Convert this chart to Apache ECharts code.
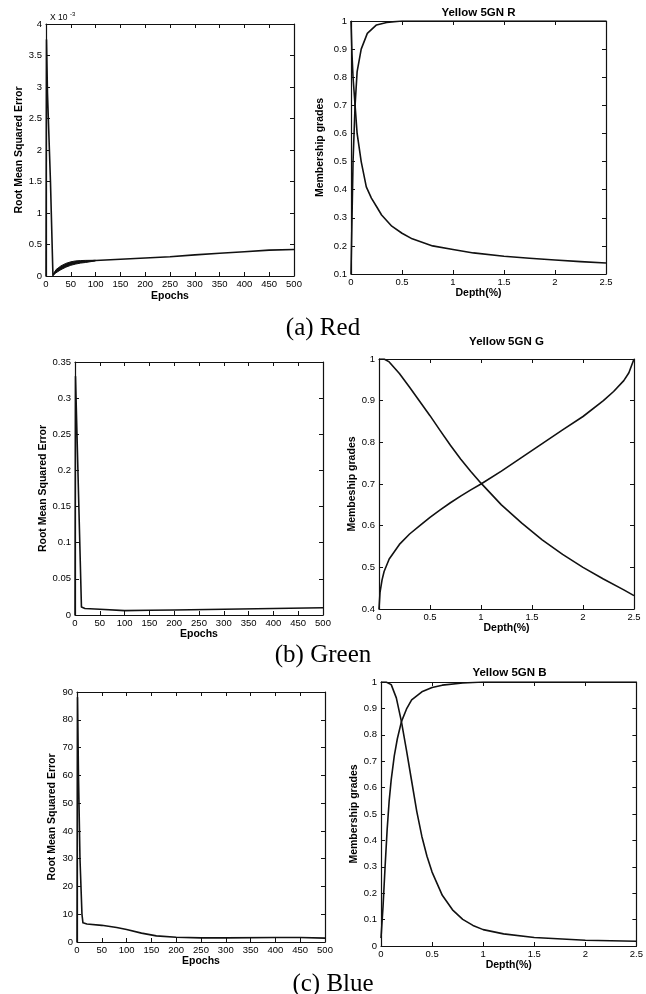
<!DOCTYPE html>
<html>
<head>
<meta charset="utf-8">
<script src="https://cdn.jsdelivr.net/npm/echarts@6/dist/echarts.min.js"></script>
<style>
  html, body { margin: 0; padding: 0; background: #fff; }
  #chart { width: 646px; height: 994px; }
</style>
</head>
<body>
<div id="chart"></div>
<script>
// ---------- (a) Red ----------
const redEpochs = [0, 1, 3, 9, 14, 20, 30, 40, 50, 60, 80, 100, 150, 200, 250, 300, 350, 400, 450, 500];
const redRmse   = [0, 3.75, 2.9, 1.5, 0.01, 0.08, 0.13, 0.17, 0.2, 0.215, 0.235, 0.245, 0.265, 0.285, 0.305, 0.335, 0.36, 0.385, 0.41, 0.42];
// oscillation envelope of the early training epochs
const redBandEpochs = [14, 20, 30, 40, 50, 60, 70, 80, 100];
const redBandLow    = [0.01, 0.05, 0.1, 0.14, 0.17, 0.19, 0.205, 0.215, 0.24];
const redBandHigh   = [0.01, 0.1, 0.16, 0.2, 0.225, 0.24, 0.245, 0.248, 0.25];

const redRiseDepth = [0, 0.01, 0.02, 0.04, 0.06, 0.1, 0.16, 0.25, 0.35, 0.5, 1, 1.5, 2, 2.5];
const redRiseGrade = [0.1, 0.3, 0.5, 0.7, 0.82, 0.9, 0.956, 0.986, 0.995, 1, 1, 1, 1, 1];
const redFallDepth = [0, 0.01, 0.02, 0.04, 0.06, 0.1, 0.15, 0.2, 0.25, 0.3, 0.4, 0.5, 0.6, 0.8, 1.0, 1.2, 1.5, 1.75, 2.0, 2.25, 2.5];
const redFallGrade = [1, 0.88, 0.8, 0.7, 0.6, 0.5, 0.41, 0.37, 0.34, 0.31, 0.27, 0.245, 0.225, 0.2, 0.187, 0.175, 0.163, 0.156, 0.15, 0.144, 0.139];

// ---------- (b) Green ----------
const greenEpochs = [0, 1, 4, 13, 20, 50, 100, 150, 200, 300, 400, 500];
const greenRmse   = [0, 0.33, 0.25, 0.011, 0.009, 0.008, 0.006, 0.0065, 0.007, 0.008, 0.009, 0.01];

const greenRiseDepth = [0, 0.01, 0.03, 0.05, 0.1, 0.2, 0.3, 0.4, 0.5, 0.6, 0.7, 0.8, 0.9, 1.0, 1.2, 1.4, 1.6, 1.8, 2.0, 2.2, 2.3, 2.4, 2.45, 2.5];
const greenRiseGrade = [0.4, 0.44, 0.47, 0.49, 0.52, 0.555, 0.58, 0.6, 0.62, 0.638, 0.655, 0.671, 0.686, 0.7, 0.731, 0.764, 0.797, 0.83, 0.862, 0.9, 0.922, 0.948, 0.967, 1.0];
const greenFallDepth = [0, 0.05, 0.1, 0.2, 0.3, 0.4, 0.5, 0.6, 0.7, 0.8, 0.9, 1.0, 1.2, 1.4, 1.6, 1.8, 2.0, 2.2, 2.4, 2.5];
const greenFallGrade = [1, 1, 0.993, 0.965, 0.932, 0.898, 0.864, 0.828, 0.793, 0.76, 0.73, 0.702, 0.65, 0.606, 0.566, 0.531, 0.5, 0.472, 0.446, 0.432];

// ---------- (c) Blue ----------
const blueEpochs = [0, 1, 3, 6, 10, 12, 20, 50, 80, 100, 130, 160, 200, 250, 300, 400, 450, 500];
const blueRmse   = [0, 88, 60, 30, 10, 6.9, 6.5, 6.0, 5.2, 4.5, 3.2, 2.2, 1.7, 1.5, 1.5, 1.6, 1.6, 1.4];

const blueRiseDepth = [0, 0.02, 0.04, 0.06, 0.08, 0.1, 0.13, 0.16, 0.2, 0.25, 0.3, 0.4, 0.5, 0.6, 0.8, 1.0, 1.5, 2.0, 2.5];
const blueRiseGrade = [0.03, 0.15, 0.3, 0.44, 0.55, 0.63, 0.72, 0.785, 0.85, 0.898, 0.932, 0.963, 0.979, 0.988, 0.996, 1, 1, 1, 1];
const blueFallDepth = [0, 0.05, 0.1, 0.15, 0.2, 0.25, 0.3, 0.35, 0.4, 0.45, 0.5, 0.6, 0.7, 0.8, 0.9, 1.0, 1.2, 1.5, 2.0, 2.5];
const blueFallGrade = [1, 1, 0.99, 0.94, 0.85, 0.74, 0.625, 0.51, 0.415, 0.34, 0.28, 0.192, 0.137, 0.101, 0.078, 0.062, 0.046, 0.032, 0.022, 0.018];

// ---------- titles and captions ----------
const panelTitles = ['Yellow 5GN R', 'Yellow 5GN G', 'Yellow 5GN B'];
const captions = ['(a) Red', '(b) Green', '(c) Blue'];

// ---------- layout ----------
const SANS = '"Liberation Sans", Arial, Helvetica, sans-serif';
const INK = '#111';

const panels = [
  { grid: { left: 46,  top: 24,  width: 248, height: 252 }, x: [0, 500, 50],  y: [0, 4, 0.5],    xName: 'Epochs',   yName: 'Root Mean Squared Error', xGap: 15, yGap: 19 },
  { grid: { left: 351, top: 21,  width: 255, height: 253 }, x: [0, 2.5, 0.5], y: [0.1, 1, 0.1],  xName: 'Depth(%)', yName: 'Membership grades',       xGap: 13, yGap: 25 },
  { grid: { left: 75,  top: 362, width: 248, height: 253 }, x: [0, 500, 50],  y: [0, 0.35, 0.05], xName: 'Epochs',   yName: 'Root Mean Squared Error', xGap: 11, yGap: 21 },
  { grid: { left: 379, top: 359, width: 255, height: 250 }, x: [0, 2.5, 0.5], y: [0.4, 1, 0.1],  xName: 'Depth(%)', yName: 'Membeship grades',        xGap: 12, yGap: 7 },
  { grid: { left: 77,  top: 692, width: 248, height: 250 }, x: [0, 500, 50],  y: [0, 90, 10],    xName: 'Epochs',   yName: 'Root Mean Squared Error', xGap: 14, yGap: 19 },
  { grid: { left: 381, top: 682, width: 257, height: 264 }, x: [0, 2.5, 0.5], y: [0, 1, 0.1],    xName: 'Depth(%)', yName: 'Membership grades',       xGap: 11, yGap: 12 }
];

const grids = [];
const xAxes = [];
const yAxes = [];

panels.forEach((p, i) => {
  grids.push(Object.assign({ containLabel: false }, p.grid));
  const tick = { show: true, inside: true, length: 4, lineStyle: { color: INK, width: 1 } };
  const line = { show: true, onZero: false, lineStyle: { color: INK, width: 1.2 } };
  const lbl = { color: '#000', fontFamily: SANS, fontSize: 9.5 };
  const nameStyle = { color: '#000', fontFamily: SANS, fontSize: 10.5, fontWeight: 'bold' };
  // bottom axis with labels
  xAxes.push({
    type: 'value', gridIndex: i, position: 'bottom',
    min: p.x[0], max: p.x[1], interval: p.x[2],
    axisLine: line, axisTick: tick, splitLine: { show: false },
    axisLabel: Object.assign({ margin: 3, showMaxLabel: true, showMinLabel: true }, lbl),
    name: p.xName, nameLocation: 'middle', nameGap: p.xGap, nameTextStyle: nameStyle
  });
  // top axis closing the box
  xAxes.push({
    type: 'value', gridIndex: i, position: 'top',
    min: p.x[0], max: p.x[1], interval: p.x[2],
    axisLine: line, axisTick: tick, splitLine: { show: false }, axisLabel: { show: false }
  });
  // left axis with labels
  yAxes.push({
    type: 'value', gridIndex: i, position: 'left',
    min: p.y[0], max: p.y[1], interval: p.y[2],
    axisLine: line, axisTick: tick, splitLine: { show: false },
    axisLabel: Object.assign({ margin: 4, showMaxLabel: true, showMinLabel: true }, lbl),
    name: p.yName, nameLocation: 'middle', nameGap: p.yGap, nameTextStyle: nameStyle
  });
  // right axis closing the box
  yAxes.push({
    type: 'value', gridIndex: i, position: 'right',
    min: p.y[0], max: p.y[1], interval: p.y[2],
    axisLine: line, axisTick: tick, splitLine: { show: false }, axisLabel: { show: false }
  });
});

function pairs(xs, ys) { return xs.map((x, k) => [x, ys[k]]); }

function curve(panel, xs, ys) {
  return {
    type: 'line', xAxisIndex: panel * 2, yAxisIndex: panel * 2,
    data: pairs(xs, ys), symbol: 'none', showSymbol: false, smooth: false,
    lineStyle: { color: INK, width: 1.6, join: 'round' }, animation: false, silent: true, z: 3
  };
}

// filled envelope between the low and high oscillation bounds
const redBand = {
  type: 'custom', xAxisIndex: 0, yAxisIndex: 0, silent: true, animation: false, z: 3, clip: true,
  data: [[redBandEpochs[0], redBandLow[0]]],
  renderItem: function (params, api) {
    const upper = redBandEpochs.map((x, k) => api.coord([x, redBandHigh[k]]));
    const lower = redBandEpochs.map((x, k) => api.coord([x, redBandLow[k]])).reverse();
    return {
      type: 'polygon',
      shape: { points: upper.concat(lower) },
      style: { fill: INK, stroke: INK, lineWidth: 1 }
    };
  }
};

const series = [
  curve(0, redEpochs, redRmse),
  redBand,
  curve(1, redRiseDepth, redRiseGrade),
  curve(1, redFallDepth, redFallGrade),
  curve(2, greenEpochs, greenRmse),
  curve(3, greenRiseDepth, greenRiseGrade),
  curve(3, greenFallDepth, greenFallGrade),
  curve(4, blueEpochs, blueRmse),
  curve(5, blueRiseDepth, blueRiseGrade),
  curve(5, blueFallDepth, blueFallGrade)
];

// panel titles centred over the membership plots, captions under each row
const titleRows = [
  { panel: 1, y: 13 },
  { panel: 3, y: 342 },
  { panel: 5, y: 673 }
];
const captionRows = [
  { x: 323, y: 328 },
  { x: 323, y: 655 },
  { x: 333, y: 984 }
];

const graphics = [];
titleRows.forEach((t, k) => {
  const g = panels[t.panel].grid;
  graphics.push({
    type: 'text', x: g.left + g.width / 2, y: t.y, silent: true,
    style: { text: panelTitles[k], font: 'bold 11.5px ' + SANS, fill: '#000', align: 'center', verticalAlign: 'middle' }
  });
});
captionRows.forEach((c, k) => {
  graphics.push({
    type: 'text', x: c.x, y: c.y, silent: true,
    style: { text: captions[k], font: '25px "Liberation Serif", "Times New Roman", serif', fill: '#000', align: 'center', verticalAlign: 'middle' }
  });
});
// axis multiplier of the red RMSE plot
graphics.push({
  type: 'text', x: 50, y: 18, silent: true,
  style: { text: 'X 10', font: '8.5px ' + SANS, fill: '#000', align: 'left', verticalAlign: 'middle' }
});
graphics.push({
  type: 'text', x: 70, y: 14, silent: true,
  style: { text: '-3', font: '6px ' + SANS, fill: '#000', align: 'left', verticalAlign: 'middle' }
});

const chart = echarts.init(document.getElementById('chart'), null, { renderer: 'canvas' });
chart.setOption({
  backgroundColor: '#fff',
  animation: false,
  grid: grids,
  xAxis: xAxes,
  yAxis: yAxes,
  series: series,
  graphic: graphics
});
</script>
</body>
</html>
